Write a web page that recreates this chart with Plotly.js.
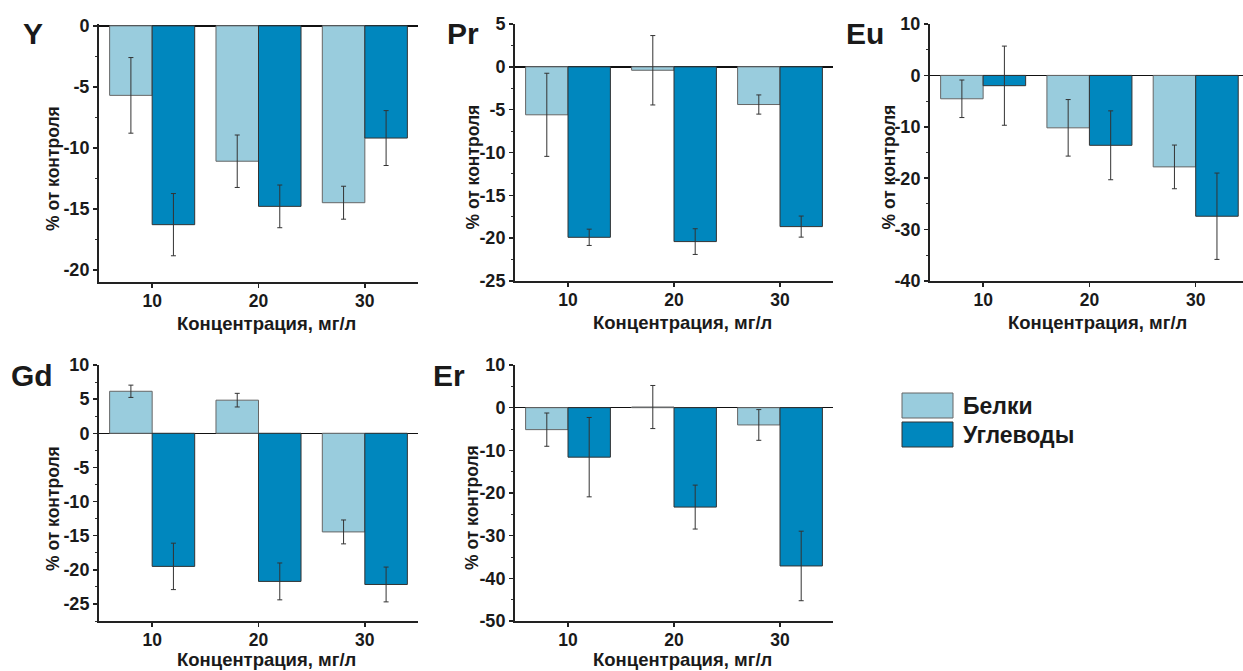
<!DOCTYPE html>
<html>
<head>
<meta charset="utf-8">
<script src="https://cdn.plot.ly/plotly-3.0.1.min.js"></script>
<style>html,body{margin:0;padding:0;background:#fff;}#chart{width:1243px;height:671px;}</style>
</head>
<body>
<div id="chart"></div>
<script>
// ---- data ----
const categories = [10, 20, 30];
const seriesNames = ['Белки', 'Углеводы'];
const panelNames = ['Y', 'Pr', 'Eu', 'Gd', 'Er'];

const belki_Y = [-5.7, -11.1, -14.5];
const belkiErr_Y = [3.1, 2.15, 1.35];
const uglev_Y = [-16.3, -14.8, -9.2];
const uglevErr_Y = [2.55, 1.75, 2.25];

const belki_Pr = [-5.6, -0.4, -4.4];
const belkiErr_Pr = [4.85, 4.05, 1.12];
const uglev_Pr = [-19.9, -20.4, -18.65];
const uglevErr_Pr = [0.95, 1.5, 1.23];

const belki_Eu = [-4.55, -10.2, -17.8];
const belkiErr_Eu = [3.65, 5.5, 4.25];
const uglev_Eu = [-2.0, -13.6, -27.4];
const uglevErr_Eu = [7.7, 6.7, 8.4];

const belki_Gd = [6.15, 4.85, -14.45];
const belkiErr_Gd = [0.9, 1.0, 1.75];
const uglev_Gd = [-19.5, -21.7, -22.15];
const uglevErr_Gd = [3.4, 2.7, 2.55];

const belki_Er = [-5.15, 0.15, -4.05];
const belkiErr_Er = [3.9, 5.05, 3.6];
const uglev_Er = [-11.6, -23.3, -37.1];
const uglevErr_Er = [9.3, 5.15, 8.15];

// y tick labels per panel
const yTicks_Y = [0, -5, -10, -15, -20];
const yTicks_Pr = [5, 0, -5, -10, -15, -20, -25];
const yTicks_Eu = [10, 0, -10, -20, -30, -40];
const yTicks_Gd = [10, 5, 0, -5, -10, -15, -20, -25];
const yTicks_Er = [10, 0, -10, -20, -30, -40, -50];

const yRanges = [[-21, 0.15], [-25, 5], [-40, 10], [-27.5, 10], [-50, 10]];
const yMinor = [2.5, 2.5, 5, 2.5, 5];
const xTitle = 'Концентрация, мг/л';
const yTitle = '% от контроля';

// ---- styling ----
const W = 1243, H = 671;
const px = x => x / W;
const py = y => 1 - y / H;
const FONT = '"Liberation Sans", Arial, Helvetica, sans-serif';
const lightC = '#99CCDD';
const darkC = '#0087BE';
const txtC = '#1a1a1a';

// plot area boxes in pixels [left, right, top, bottom]
const boxes = [
  [99, 418, 24, 282],
  [515, 833, 24, 281],
  [930, 1243, 24, 281],
  [99, 418, 365, 621],
  [515, 833, 365, 621]
];
const xRanges = [[5, 35], [5, 35], [5, 34.45], [5, 35], [5, 35]];

const belkiData = [belki_Y, belki_Pr, belki_Eu, belki_Gd, belki_Er];
const belkiErrs = [belkiErr_Y, belkiErr_Pr, belkiErr_Eu, belkiErr_Gd, belkiErr_Er];
const uglevData = [uglev_Y, uglev_Pr, uglev_Eu, uglev_Gd, uglev_Er];
const uglevErrs = [uglevErr_Y, uglevErr_Pr, uglevErr_Eu, uglevErr_Gd, uglevErr_Er];
const yTicks = [yTicks_Y, yTicks_Pr, yTicks_Eu, yTicks_Gd, yTicks_Er];

const traces = [];
const layout = {
  width: W, height: H,
  margin: {l: 0, r: 0, t: 0, b: 0},
  paper_bgcolor: '#fff', plot_bgcolor: '#fff',
  barmode: 'group', bargap: 0.2, bargroupgap: 0,
  showlegend: false,
  font: {family: FONT, color: txtC, size: 18, weight: 'bold'},
  annotations: [], shapes: []
};

// panel label positions (center)
const labelPos = [[33, 33], [463, 33], [865, 33], [32, 375], [449, 375]];
const yTitleX = [53, 472, 888, 53, 472];

panelNames.forEach((name, i) => {
  const xa = i === 0 ? 'x' : 'x' + (i + 1);
  const ya = i === 0 ? 'y' : 'y' + (i + 1);
  const b = boxes[i];
  traces.push({
    type: 'bar', x: categories, y: belkiData[i], name: seriesNames[0],
    xaxis: xa, yaxis: ya,
    marker: {color: lightC, line: {color: '#666', width: 1}},
    error_y: {type: 'data', array: belkiErrs[i], visible: true, color: '#333', thickness: 1, width: 2.5}
  });
  traces.push({
    type: 'bar', x: categories, y: uglevData[i], name: seriesNames[1],
    xaxis: xa, yaxis: ya,
    marker: {color: darkC, line: {color: '#333', width: 1}},
    error_y: {type: 'data', array: uglevErrs[i], visible: true, color: '#333', thickness: 1, width: 2.5}
  });
  const xk = i === 0 ? 'xaxis' : 'xaxis' + (i + 1);
  const yk = i === 0 ? 'yaxis' : 'yaxis' + (i + 1);
  layout[xk] = {
    domain: [px(b[0]), px(b[1])], anchor: ya, range: xRanges[i],
    tickmode: 'array', tickvals: categories, ticktext: categories.map(String),
    showline: true, linecolor: '#222', linewidth: 2,
    ticks: 'outside', ticklen: 4, tickwidth: 1.5, tickcolor: '#222',
    ticklabelstandoff: -2,
    showgrid: false, zeroline: false,
    tickfont: {family: FONT, size: 17.5, color: txtC, weight: 'bold'}
  };
  layout[yk] = {
    domain: [py(b[3]), py(b[2])], anchor: xa, range: yRanges[i],
    tickmode: 'array', tickvals: yTicks[i], ticktext: yTicks[i].map(v => String(v)),
    showline: true, linecolor: '#222', linewidth: 2,
    ticks: 'outside', ticklen: 4, tickwidth: 1.5, tickcolor: '#222',
    minor: {tickmode: 'linear', dtick: yMinor[i], tick0: 0, ticks: 'outside', ticklen: 2.5, tickwidth: 1, tickcolor: '#333'},
    showgrid: false,
    zeroline: true, zerolinecolor: '#111', zerolinewidth: 1.5,
    tickfont: {family: FONT, size: 18, color: txtC, weight: 'bold'}
  };
  // panel label
  layout.annotations.push({
    text: name, xref: 'paper', yref: 'paper',
    x: px(labelPos[i][0]), y: py(labelPos[i][1]), xanchor: 'center', yanchor: 'middle',
    showarrow: false, font: {family: FONT, size: 30, color: txtC, weight: 'bold'}
  });
  // x title
  const bottomRow = i >= 3;
  layout.annotations.push({
    text: xTitle, xref: 'paper', yref: 'paper',
    x: px((b[0] + (i === 2 ? b[0] + 319 : b[1])) / 2 + 8),
    y: bottomRow ? 0 : py(b[3] + 41),
    xanchor: 'center', yanchor: bottomRow ? 'bottom' : 'middle', borderpad: 0,
    showarrow: false, font: {family: FONT, size: 18.5, color: txtC, weight: 'bold'}
  });
  // y title
  layout.annotations.push({
    text: yTitle, xref: 'paper', yref: 'paper', textangle: -90,
    x: px(yTitleX[i]), y: py((b[2] + b[3]) / 2 + 15),
    xanchor: 'center', yanchor: 'middle',
    showarrow: false, font: {family: FONT, size: 17.5, color: txtC, weight: 'bold'}
  });
});

// custom legend
const legColors = [lightC, darkC];
const legLines = ['#666', '#333'];
seriesNames.forEach((s, k) => {
  const top = 393 + k * 29;
  layout.shapes.push({
    type: 'rect', xref: 'paper', yref: 'paper',
    x0: px(902), x1: px(953), y0: py(top + 25), y1: py(top),
    fillcolor: legColors[k], line: {color: legLines[k], width: 1}
  });
  layout.annotations.push({
    text: s, xref: 'paper', yref: 'paper', x: px(961), y: py(top + 13),
    xanchor: 'left', yanchor: 'middle', showarrow: false,
    font: {family: FONT, size: 23, color: txtC, weight: 'bold'}
  });
});

Plotly.newPlot('chart', traces, layout, {staticPlot: true});
</script>
</body>
</html>
